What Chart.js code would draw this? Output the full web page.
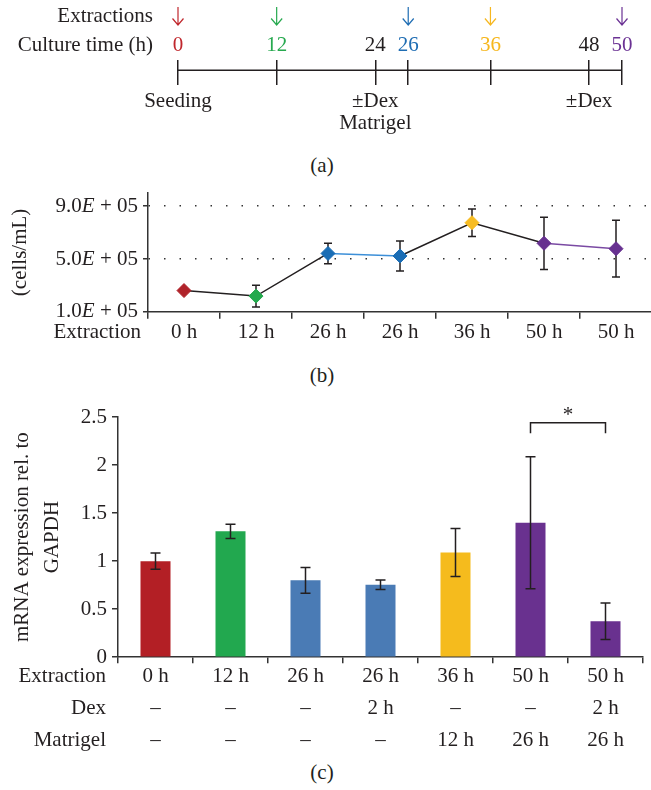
<!DOCTYPE html>
<html>
<head>
<meta charset="utf-8">
<script src="https://cdn.jsdelivr.net/npm/chart.js@4"></script>
<style>
  html, body { margin: 0; padding: 0; background: #fff; }
  body { width: 651px; height: 790px; position: relative; overflow: hidden; }
  canvas { position: absolute; left: 0; }
  .cap { position: absolute; left: 0; width: 644px; text-align: center; color: #231f20;
         font: 21px "Liberation Serif", "Times New Roman", serif; line-height: 24px; }
</style>
</head>
<body>
<canvas id="chartA" width="651" height="150" style="top:0"></canvas>
<div class="cap" style="top:153px">(a)</div>
<canvas id="chartB" width="660" height="170" style="top:180px"></canvas>
<div class="cap" style="top:363px">(b)</div>
<canvas id="chartC" width="651" height="370" style="top:390px"></canvas>
<div class="cap" style="top:760px">(c)</div>
<script>
const FONT = "'Liberation Serif', 'Times New Roman', serif";
const INK = "#231f20";

// (a) culture timeline
const timePoints = [0, 12, 24, 26, 36, 48, 50];
const timeColors = ["#c0272d", "#27a94f", INK, "#1f6db3", "#f6b71f", INK, "#6b3294"];
const extractionTimes = [0, 12, 26, 36, 50];
const eventTimes = [0, 24, 48];
const eventLabels = [["Seeding"], ["\u00b1Dex", "Matrigel"], ["\u00b1Dex"]];

// (b) cell counts
const extractionLabels = ["0 h", "12 h", "26 h", "26 h", "36 h", "50 h", "50 h"];
const cellCounts = [2.61e5, 2.19e5, 5.42e5, 5.23e5, 7.75e5, 6.19e5, 5.78e5];
const cellErrors = [0, 0.82e5, 0.78e5, 1.13e5, 1.04e5, 1.98e5, 2.15e5];
const yTicksB = [1e5, 5e5, 9e5];
const pointColors = ["#b0232a", "#23a94d", "#1a6db5", "#1a6db5", "#f7bc22", "#673190", "#673190"];
const segmentColors = [INK, INK, "#3c8fd8", INK, INK, "#7a4aa3"];

// (c) mRNA expression
const dexLabels = ["\u2013", "\u2013", "\u2013", "2 h", "\u2013", "\u2013", "2 h"];
const matrigelLabels = ["\u2013", "\u2013", "\u2013", "\u2013", "12 h", "26 h", "26 h"];
const expression = [1.0, 1.31, 0.80, 0.755, 1.09, 1.40, 0.375];
const expressionErrors = [0.085, 0.075, 0.135, 0.05, 0.25, 0.687, 0.19];
const barColors = ["#b31f25", "#22a84f", "#4a7bb5", "#4a7bb5", "#f5bb1d", "#69318f", "#69318f"];
const sigPairs = [{ from: 5, to: 6, top: 2.44, leg: 2.33, label: "*" }];

const font21 = { family: FONT, size: 21 };

// schematic time axis: short intervals get a minimum width so labels don't collide
const MIN_GAP_HOURS = 4;
class TimelineScale extends Chart.LinearScale {
  getPixelForValue(value) {
    const w = [];
    for (let i = 1; i < timePoints.length; i++) {
      w.push(Math.max(timePoints[i] - timePoints[i - 1], MIN_GAP_HOURS));
    }
    const total = w.reduce((a, b) => a + b, 0);
    let acc = 0;
    for (let i = 0; i < w.length; i++) {
      const t0 = timePoints[i], t1 = timePoints[i + 1];
      if (value <= t1 || i === w.length - 1) {
        const f = (value - t0) / (t1 - t0);
        return this.getPixelForDecimal((acc + f * w[i]) / total);
      }
      acc += w[i];
    }
    return this.getPixelForDecimal(0);
  }
}
TimelineScale.id = "timeline";
TimelineScale.defaults = Chart.LinearScale.defaults;
Chart.register(TimelineScale);

// ---------- (a) ----------
const timelinePlugin = {
  id: "timeline",
  afterDraw(chart) {
    const ctx = chart.ctx, xs = chart.scales.x;
    ctx.save();
    ctx.font = "21px " + FONT;
    ctx.fillStyle = INK;
    ctx.textBaseline = "middle";
    ctx.textAlign = "right";
    ctx.fillText("Extractions", 153, 16);
    ctx.fillText("Culture time (h)", 153, 45);

    // arrows above extraction times
    extractionTimes.forEach(t => {
      const x = xs.getPixelForValue(t);
      ctx.strokeStyle = timeColors[timePoints.indexOf(t)];
      ctx.lineWidth = 1.2;
      ctx.beginPath();
      ctx.moveTo(x, 7); ctx.lineTo(x, 25);
      ctx.moveTo(x - 5.5, 18.5); ctx.lineTo(x, 25); ctx.lineTo(x + 5.5, 18.5);
      ctx.stroke();
    });

    // events below the line
    ctx.textAlign = "center";
    eventTimes.forEach((t, i) => {
      const x = xs.getPixelForValue(t);
      eventLabels[i].forEach((s, j) => ctx.fillText(s, x, 101 + j * 22));
    });
    ctx.restore();
  }
};

new Chart(document.getElementById("chartA"), {
  type: "line",
  data: {
    datasets: [{
      data: [{ x: timePoints[0], y: 0 }, { x: timePoints[timePoints.length - 1], y: 0 }],
      borderColor: INK, borderWidth: 1.5, pointRadius: 0
    }]
  },
  options: {
    responsive: false, animation: false, events: [],
    layout: { padding: { left: 178, right: 29, top: 35, bottom: 65 } },
    plugins: { legend: { display: false }, tooltip: { enabled: false } },
    scales: {
      x: {
        type: "timeline", position: "top", min: 0, max: 50,
        afterBuildTicks: s => { s.ticks = timePoints.map(v => ({ value: v })); },
        ticks: { autoSkip: false, maxRotation: 0, padding: 2, font: font21,
                 color: c => timeColors[c.index] },
        grid: { drawTicks: false, color: INK, lineWidth: 1.5 },
        border: { display: false }
      },
      y: { display: false, min: -1, max: 0.7 }
    }
  },
  plugins: [timelinePlugin]
});

// ---------- shared helpers ----------
function drawErrorBars(chart, values, errors, capHalf) {
  const ctx = chart.ctx, ys = chart.scales.y;
  const meta = chart.getDatasetMeta(0);
  ctx.save();
  ctx.strokeStyle = INK;
  ctx.lineWidth = 1.5;
  values.forEach((v, i) => {
    if (!errors[i]) return;
    const px = meta.data[i].x;
    const top = ys.getPixelForValue(v + errors[i]);
    const bot = ys.getPixelForValue(v - errors[i]);
    ctx.beginPath();
    ctx.moveTo(px, top); ctx.lineTo(px, bot);
    ctx.moveTo(px - capHalf, top); ctx.lineTo(px + capHalf, top);
    ctx.moveTo(px - capHalf, bot); ctx.lineTo(px + capHalf, bot);
    ctx.stroke();
  });
  ctx.restore();
}

function rowHeaders(headers, rightX, lineH) {
  return {
    id: "rowHeaders",
    afterDraw(chart) {
      const ctx = chart.ctx, xs = chart.scales.x, o = xs.options;
      const top = xs.top + o.grid.tickLength + o.ticks.padding;
      ctx.save();
      ctx.font = "21px " + FONT;
      ctx.fillStyle = INK;
      ctx.textAlign = "right";
      ctx.textBaseline = "middle";
      headers.forEach((h, i) => ctx.fillText(h, rightX, top + lineH * (i + 0.5)));
      ctx.restore();
    }
  };
}

// ---------- (b) ----------
const sciLabelsPlugin = {
  id: "sciLabels",
  afterDraw(chart) {
    const ctx = chart.ctx, ys = chart.scales.y;
    ctx.save();
    ctx.fillStyle = INK;
    ctx.textBaseline = "middle";
    ctx.textAlign = "left";
    yTicksB.forEach(v => {
      const y = ys.getPixelForValue(v);
      const exp = Math.floor(Math.log10(v));
      const mant = (v / Math.pow(10, exp)).toFixed(1);
      const tail = " + " + String(exp).padStart(2, "0");
      ctx.font = "21px " + FONT;
      const w1 = ctx.measureText(mant).width, w3 = ctx.measureText(tail).width;
      ctx.font = "italic 21px " + FONT;
      const w2 = ctx.measureText("E").width;
      let x = 138 - (w1 + w2 + w3);
      ctx.font = "21px " + FONT; ctx.fillText(mant, x, y); x += w1;
      ctx.font = "italic 21px " + FONT; ctx.fillText("E", x, y); x += w2;
      ctx.font = "21px " + FONT; ctx.fillText(tail, x, y);
    });
    ctx.restore();
  },
  beforeDatasetsDraw(chart) { drawErrorBars(chart, cellCounts, cellErrors, 4); }
};

new Chart(document.getElementById("chartB"), {
  type: "line",
  data: {
    labels: extractionLabels,
    datasets: [{
      data: cellCounts,
      borderWidth: 1.5,
      segment: { borderColor: c => segmentColors[c.p0DataIndex] },
      pointStyle: "rectRot", pointRadius: 7,
      pointBackgroundColor: pointColors, pointBorderColor: pointColors, pointBorderWidth: 1
    }]
  },
  options: {
    responsive: false, animation: false, events: [],
    layout: { padding: { left: 0, right: 3, top: 13, bottom: 4 } },
    plugins: { legend: { display: false }, tooltip: { enabled: false } },
    scales: {
      x: {
        type: "category", offset: true,
        ticks: { font: font21, color: INK, padding: 1, maxRotation: 0, autoSkip: false },
        grid: { offset: true, drawOnChartArea: false, tickLength: 7, color: "#333", lineWidth: 1.5 },
        border: { color: "#333", width: 1.5 }
      },
      y: {
        min: 1e5, max: 1e6,
        afterBuildTicks: s => { s.ticks = yTicksB.map(v => ({ value: v })); },
        afterFit: s => { s.width = 148; },
        ticks: { display: false },
        title: { display: true, text: "(cells/mL)", font: font21, color: INK, padding: { top: 8, bottom: 0 } },
        grid: {
          color: c => (c.tick && c.tick.value === yTicksB[0]) ? "rgba(0,0,0,0)" : "#333",
          lineWidth: 1.5, tickLength: 5, tickColor: "#333", tickWidth: 1.5
        },
        border: { color: "#333", width: 1.5, dash: [1.5, 14] }
      }
    }
  },
  plugins: [sciLabelsPlugin, rowHeaders(["Extraction"], 141, 21 * 1.2)]
});

// ---------- (c) ----------
const barExtrasPlugin = {
  id: "barExtras",
  afterDatasetsDraw(chart) {
    drawErrorBars(chart, expression, expressionErrors, 5);
    const ctx = chart.ctx, xs = chart.scales.x, ys = chart.scales.y;
    ctx.save();
    ctx.strokeStyle = INK; ctx.lineWidth = 1.5;
    ctx.fillStyle = INK;
    ctx.font = "21px " + FONT;
    ctx.textAlign = "center"; ctx.textBaseline = "middle";
    sigPairs.forEach(p => {
      const x1 = xs.getPixelForValue(p.from), x2 = xs.getPixelForValue(p.to);
      const yt = ys.getPixelForValue(p.top), yl = ys.getPixelForValue(p.leg);
      ctx.beginPath();
      ctx.moveTo(x1, yl); ctx.lineTo(x1, yt); ctx.lineTo(x2, yt); ctx.lineTo(x2, yl);
      ctx.stroke();
      ctx.fillText(p.label, (x1 + x2) / 2, yt - 7);
    });
    ctx.restore();
  }
};

new Chart(document.getElementById("chartC"), {
  type: "bar",
  data: {
    labels: extractionLabels.map((e, i) => [e, dexLabels[i], matrigelLabels[i]]),
    datasets: [{
      data: expression,
      backgroundColor: barColors,
      barPercentage: 0.4, categoryPercentage: 1.0
    }]
  },
  options: {
    responsive: false, animation: false, events: [],
    layout: { padding: { left: 0, right: 8, top: 27, bottom: 7 } },
    plugins: { legend: { display: false }, tooltip: { enabled: false } },
    scales: {
      x: {
        ticks: { font: { family: FONT, size: 21, lineHeight: 1.52 }, color: INK, padding: -3,
                 maxRotation: 0, autoSkip: false },
        grid: { offset: true, drawOnChartArea: false, tickLength: 6, color: "#333", lineWidth: 1.5 },
        border: { color: "#333", width: 1.5 }
      },
      y: {
        min: 0, max: 2.5,
        ticks: { stepSize: 0.5, font: font21, color: INK, padding: 5, callback: v => String(Number(v)) },
        afterFit: s => { s.width = 118; },
        title: { display: true, text: ["mRNA expression rel. to", "GAPDH"],
                 font: { family: FONT, size: 21, lineHeight: 1.43 }, color: INK,
                 padding: { top: 7, bottom: 0 } },
        grid: { drawOnChartArea: false, tickLength: 6, color: "#333", lineWidth: 1.5 },
        border: { color: "#333", width: 1.5 }
      }
    }
  },
  plugins: [barExtrasPlugin, rowHeaders(["Extraction", "Dex", "Matrigel"], 106, 21 * 1.52)]
});
</script>
</body>
</html>
